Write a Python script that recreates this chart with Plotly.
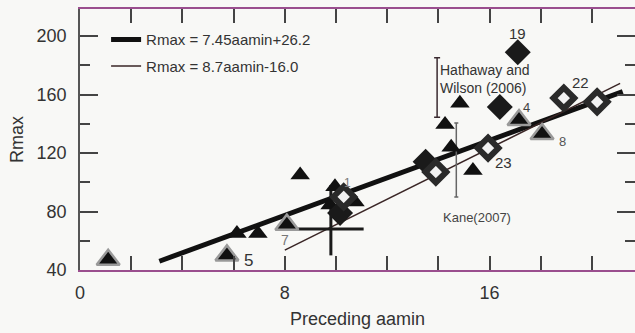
import plotly.graph_objects as go

# ---- data ----
tri_x = [6.13, 6.95, 8.6, 9.96, 9.77, 10.74, 14.84, 14.26, 14.5, 15.35]
tri_y = [65, 65, 105, 97, 84.5, 86.5, 154, 139.5, 124, 108]

gtri_x = [1.1, 5.74, 8.08, 17.15, 18.05]
gtri_y = [47, 50, 71, 142.6, 133]

dia_x = [17.1, 16.4, 13.5, 10.16]
dia_y = [189, 151.5, 114, 79]

odia_x = [13.9, 15.94, 18.9, 20.2, 10.3]
odia_y = [107, 123.4, 157.6, 155, 90]

fit1_x = [3.1, 21.2]          # thick line as drawn
fit1_y = [46, 162]
fit2_x = [8.0, 21.1]          # thin line as drawn
fit2_y = [53.6, 167.6]

legend_names = ["Rmax = 7.45aamin+26.2", "Rmax = 8.7aamin-16.0"]

cross_x, cross_y = [9.8], [68]
cross_ex, cross_ey_plus, cross_ey_minus = [1.28], [30], [18]

hw_x, hw_y, hw_err = [13.95], [164.8], [20.4]
kane_x, kane_y, kane_err = [14.7], [115.3], [25.3]

lab_text = ["19", "22", "4", "8", "23", "5", "7", "1"]
lab_x = [17.1, 19.55, 17.46, 18.85, 16.55, 6.6, 8.0, 10.45]
lab_y = [202, 168, 150.8, 128.2, 113.2, 46.5, 60.5, 99.5]
lab_size = [15, 15, 13, 13, 15, 17, 14, 12]
lab_color = ["#333", "#333", "#444", "#555", "#333", "#333", "#777", "#777"]

x_ticks = [0, 8, 16]
y_ticks = [40, 80, 120, 160, 200]
x_range = [0, 21.68]
y_range = [40, 218.5]

FONT = "Liberation Sans, Arial, sans-serif"

fig = go.Figure()

fig.add_trace(go.Scatter(x=fit1_x, y=fit1_y, mode="lines", name=legend_names[0],
                         line=dict(color="#111", width=5), legendgroup="a"))
fig.add_trace(go.Scatter(x=fit2_x, y=fit2_y, mode="lines", name=legend_names[1],
                         line=dict(color="#3a2626", width=1.5), legendgroup="b"))

# error-bar style annotations
fig.add_trace(go.Scatter(x=cross_x, y=cross_y, mode="markers", showlegend=False,
                         marker=dict(size=1, color="rgba(0,0,0,0)"),
                         error_x=dict(type="data", array=cross_ex, color="#1a1a1a", thickness=3, width=0),
                         error_y=dict(type="data", array=cross_ey_plus, arrayminus=cross_ey_minus,
                                      symmetric=False, color="#1a1a1a", thickness=3, width=0)))
fig.add_trace(go.Scatter(x=hw_x, y=hw_y, mode="markers", showlegend=False,
                         marker=dict(size=1, color="rgba(0,0,0,0)"),
                         error_y=dict(type="data", array=hw_err, color="#3a2a30", thickness=1.5, width=3)))
fig.add_trace(go.Scatter(x=kane_x, y=kane_y, mode="markers", showlegend=False,
                         marker=dict(size=1, color="rgba(0,0,0,0)"),
                         error_y=dict(type="data", array=kane_err, color="#666", thickness=1.5, width=2)))

fig.add_trace(go.Scatter(x=gtri_x, y=gtri_y, mode="markers", showlegend=False,
                         marker=dict(symbol="triangle-up", size=20, color="#111",
                                     line=dict(color="#9a9a9a", width=2.5))))
fig.add_trace(go.Scatter(x=tri_x, y=tri_y, mode="markers", showlegend=False,
                         marker=dict(symbol="triangle-up", size=17, color="#111",
                                     line=dict(width=0))))
fig.add_trace(go.Scatter(x=dia_x, y=dia_y, mode="markers", showlegend=False,
                         marker=dict(symbol="diamond", size=20, color="#1a1a1a",
                                     line=dict(width=0))))
fig.add_trace(go.Scatter(x=odia_x, y=odia_y, mode="markers", showlegend=False,
                         marker=dict(symbol="diamond", size=16, color="#f2f2f2",
                                     line=dict(color="#2a2a2a", width=6))))

# invisible trace to create the right-hand tick axis
fig.add_trace(go.Scatter(x=[x_range[0]], y=[y_range[0]], yaxis="y2", mode="markers",
                         showlegend=False, marker=dict(size=1, color="rgba(0,0,0,0)"),
                         hoverinfo="skip"))

for t, x, y, s, c in zip(lab_text, lab_x, lab_y, lab_size, lab_color):
    fig.add_annotation(x=x, y=y, text=t, showarrow=False,
                       font=dict(family=FONT, size=s, color=c))

fig.add_annotation(x=14.0, y=170.6, text="Hathaway and<br>Wilson (2006)", showarrow=False,
                   xanchor="left", align="left",
                   font=dict(family=FONT, size=14, color="#333"))
fig.add_annotation(x=15.5, y=76.2, text="Kane(2007)", showarrow=False,
                   font=dict(family=FONT, size=13, color="#444"))

axis_common = dict(ticks="inside", tickcolor="#444", tickwidth=1.5, showgrid=False,
                   zeroline=False, tickfont=dict(family=FONT, size=18, color="#333"))

fig.update_layout(
    width=635, height=333,
    margin=dict(l=80, r=0, t=9, b=63),
    paper_bgcolor="#f8f8f6", plot_bgcolor="#f8f8f6",
    showlegend=True,
    legend=dict(x=0.047, y=0.945, xanchor="left", yanchor="top",
                bgcolor="rgba(0,0,0,0)", borderwidth=0, tracegroupgap=4,
                font=dict(family=FONT, size=15, color="#333")),
    xaxis=dict(range=x_range, tickvals=x_ticks, ticklen=14,
               minor=dict(dtick=2, tick0=0, ticklen=7, ticks="inside", tickcolor="#444"),
               showline=True, linecolor="#9a4e8e", linewidth=1.5, mirror="allticks",
               ticklabelstandoff=6,
               title=dict(text="Preceding aamin", standoff=10,
                          font=dict(family=FONT, size=18, color="#333")),
               **axis_common),
    yaxis=dict(range=y_range, tickvals=y_ticks, ticklen=18,
               minor=dict(dtick=20, tick0=0, ticklen=10, ticks="inside", tickcolor="#444"),
               showline=True, linecolor="#555", linewidth=1.5,
               ticklabelstandoff=8,
               title=dict(text="Rmax", standoff=8,
                          font=dict(family=FONT, size=18, color="#333")),
               **axis_common),
    yaxis2=dict(range=y_range, overlaying="y", side="right", tickvals=y_ticks, ticklen=18,
                minor=dict(dtick=20, tick0=0, ticklen=10, ticks="inside", tickcolor="#444"),
                showline=False, showticklabels=False, ticks="inside", tickcolor="#444",
                tickwidth=1.5, showgrid=False, zeroline=False),
)

fig.write_html("out.html")
